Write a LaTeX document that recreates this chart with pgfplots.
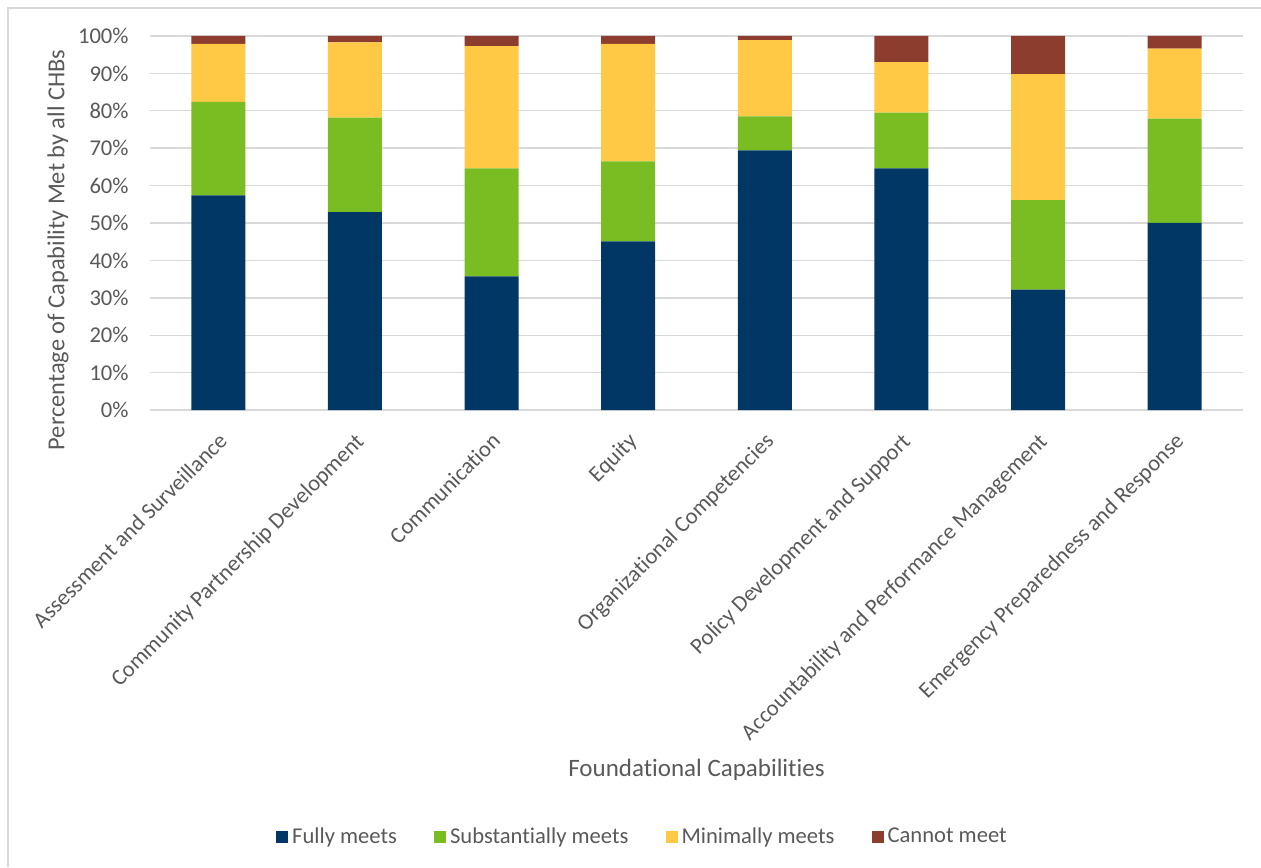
\documentclass[border=0pt]{standalone}
\usepackage{fontspec}
\setmainfont{Carlito}[Ligatures=CommonOff]
\usepackage{pgfplots}
\pgfplotsset{compat=1.18}

\definecolor{fully}{HTML}{003764}
\definecolor{subst}{HTML}{7ABD22}
\definecolor{minim}{HTML}{FFC845}
\definecolor{cannot}{HTML}{8C3D2D}
\definecolor{txt}{HTML}{595959}
\definecolor{gridc}{HTML}{D9D9D9}

\begin{document}
\begin{tikzpicture}
\useasboundingbox (0,0) rectangle (630.5pt,433.5pt);
% chart frame (only the left and top edges are in the picture)
\draw[gridc, line width=0.8pt] (4pt,0) -- (4pt,429.5pt) -- (630.5pt,429.5pt);
\begin{axis}[
  at={(75pt,228.5pt)}, anchor=south west,
  scale only axis,
  width=546.5pt, height=187pt,
  ybar stacked, bar width=27pt,
  xmin=-0.5, xmax=7.5,
  ymin=0, ymax=100,
  axis x line*=bottom, axis y line*=left,
  x axis line style={gridc, line width=0.7pt},
  y axis line style={draw=none},
  ytick={0,10,...,100},
  ymajorgrids, grid style={gridc, line width=0.7pt},
  major tick length=0pt,
  yticklabel={\pgfmathprintnumber{\tick}\%},
  /pgf/number format/assume math mode=true,
  yticklabel style={anchor=east, inner sep=0pt, xshift=-10.5pt, text=txt, font=\fontsize{11.3}{13}\selectfont},
  xtick={0,...,7},
  xticklabels={Assessment and Surveillance, Community Partnership Development, Communication, Equity, Organizational Competencies, Policy Development and Support, Accountability and Performance Management, Emergency Preparedness and Response},
  xticklabel style={yshift=-10.5pt, xshift=-0.5pt, rotate=45, anchor=north east, inner sep=0pt, text=txt, font=\fontsize{11.3}{13}\selectfont},
  ylabel={Percentage of Capability Met by all CHBs},
  ylabel style={at={(axis description cs:-0.0842,0.428)}, anchor=center, text=txt, font=\fontsize{12.2}{14}\selectfont},
  xlabel={Foundational Capabilities},
  xlabel style={at={(axis description cs:0.5,-0.9626)}, anchor=center, text=txt, font=\fontsize{12.5}{14}\selectfont},
  legend columns=4,
  legend style={at={(axis description cs:0.4515,-1.1417)}, anchor=center, draw=none, fill=none,
    font=\fontsize{11.3}{13}\selectfont, text=txt,
    /tikz/every even column/.append style={column sep=16.5pt}},
  legend image code/.code={\fill[#1] (0pt,-3pt) rectangle (6pt,3pt);},
]
\addplot[fill=fully, draw=none] coordinates {(0,57.4) (1,52.9) (2,35.7) (3,45.1) (4,69.4) (5,64.6) (6,32.2) (7,50.0)};
\addplot[fill=subst, draw=none] coordinates {(0,25.0) (1,25.3) (2,28.9) (3,21.4) (4,9.1) (5,14.9) (6,23.9) (7,27.9)};
\addplot[fill=minim, draw=none] coordinates {(0,15.5) (1,20.1) (2,32.7) (3,31.4) (4,20.4) (5,13.5) (6,33.7) (7,18.7)};
\addplot[fill=cannot, draw=none] coordinates {(0,2.1) (1,1.7) (2,2.7) (3,2.1) (4,1.1) (5,7.0) (6,10.2) (7,3.4)};
\legend{Fully meets, Substantially meets, Minimally meets, Cannot meet}
\end{axis}
\end{tikzpicture}
\end{document}
